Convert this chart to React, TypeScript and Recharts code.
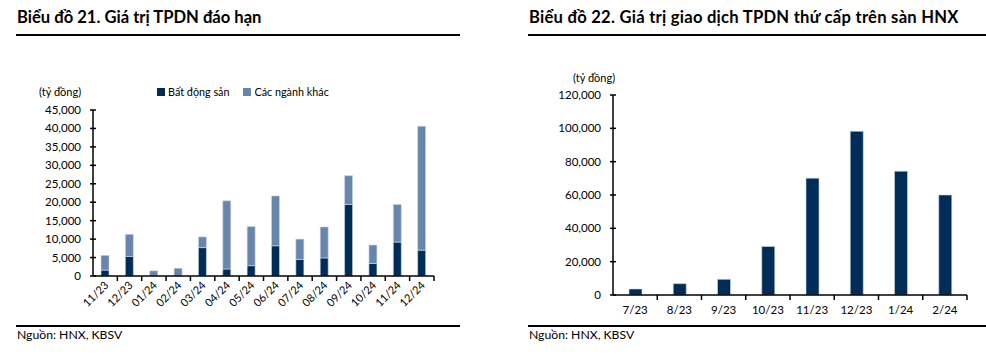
import React from 'react';
import { BarChart, Bar, XAxis, YAxis } from 'recharts';

const FONT = 'Lato, "Open Sans", sans-serif';
const DARK = '#002D58';
const LIGHT = '#6886AB';
const EDGE = '#cfd9e6';

// Chart 21
const months21 = ['11/23', '12/23', '01/24', '02/24', '03/24', '04/24', '05/24', '06/24', '07/24', '08/24', '09/24', '10/24', '11/24', '12/24'];
const realEstate = [1600, 5300, 0, 0, 7700, 1900, 2800, 8200, 4500, 4900, 19400, 3400, 9200, 7000];
const otherSectors = [4000, 6000, 1400, 2100, 2900, 18500, 10600, 13500, 5500, 8400, 7800, 5000, 10200, 33600];
const ticks21 = [0, 5000, 10000, 15000, 20000, 25000, 30000, 35000, 40000, 45000];

// Chart 22
const months22 = ['7/23', '8/23', '9/23', '10/23', '11/23', '12/23', '1/24', '2/24'];
const tradingValue = [3600, 6800, 9400, 29100, 70100, 98200, 74300, 60000];
const ticks22 = [0, 20000, 40000, 60000, 80000, 100000, 120000];

const data21 = months21.map((m, i) => ({ m, a: realEstate[i], b: otherSectors[i] }));
const data22 = months22.map((m, i) => ({ m, v: tradingValue[i] }));

const fmt = (v: number) => v.toLocaleString('en-US');

const YTick = (props: any) => {
  const { x, y, payload } = props;
  return (
    <g>
      <line x1={x - 3} x2={x + 3} y1={y} y2={y} stroke="#000" strokeWidth={1.5} />
      <text x={x - 12} y={y} dy={4} textAnchor="end" fontSize={11.5} fontFamily={FONT} fill="#000">
        {fmt(payload.value)}
      </text>
    </g>
  );
};

const makeXTick = (band: number, rotated: boolean) => (props: any) => {
  const { x, y, payload } = props;
  return (
    <g>
      <line x1={x + band / 2} x2={x + band / 2} y1={y} y2={y + 5} stroke="#000" strokeWidth={1.5} />
      {rotated ? (
        <text
          x={x + 4}
          y={y + 10}
          textAnchor="end"
          fontSize={11}
          fontFamily={FONT}
          fill="#000"
          transform={`rotate(-45 ${x + 4} ${y + 10})`}
        >
          {payload.value}
        </text>
      ) : (
        <text x={x} y={y + 19} textAnchor="middle" fontSize={11.5} fontFamily={FONT} fill="#000">
          {payload.value}
        </text>
      )}
    </g>
  );
};

const abs = (l: number, t: number): React.CSSProperties => ({ position: 'absolute', left: l, top: t });

const W1 = 493, H1 = 361, L1 = 93, R1 = 434;
const W2 = 986 - 493, L2 = 613 - 493, R2 = 967 - 493;

export default function App() {
  const band1 = (R1 - L1) / months21.length;
  const band2 = (R2 - L2) / months22.length;
  return (
    <div style={{ position: 'absolute', left: 0, top: 0, width: 986, height: 361, background: '#fff', fontFamily: FONT, color: '#000', overflow: 'hidden' }}>
      {/* titles */}
      <div style={{ ...abs(17, 7), fontSize: 16.6, fontWeight: 700, whiteSpace: 'nowrap' }}>Biểu đồ 21. Giá trị TPDN đáo hạn</div>
      <div style={{ ...abs(529, 7), fontSize: 16.6, fontWeight: 700, whiteSpace: 'nowrap', letterSpacing: 0.25 }}>Biểu đồ 22. Giá trị giao dịch TPDN thứ cấp trên sàn HNX</div>
      <div style={{ ...abs(16, 34), width: 444, height: 2, background: '#000' }} />
      <div style={{ ...abs(528, 34), width: 458, height: 2, background: '#000' }} />
      <div style={{ ...abs(16, 325), width: 444, height: 2, background: '#000' }} />
      <div style={{ ...abs(528, 325), width: 458, height: 2, background: '#000' }} />
      <div style={{ ...abs(17, 327), fontSize: 12.2, whiteSpace: 'nowrap' }}>Nguồn: HNX, KBSV</div>
      <div style={{ ...abs(529, 327), fontSize: 12.2, whiteSpace: 'nowrap' }}>Nguồn: HNX, KBSV</div>

      {/* units */}
      <div style={{ ...abs(39, 85), fontSize: 11, whiteSpace: 'nowrap' }}>(tỷ đồng)</div>
      <div style={{ ...abs(573, 71), fontSize: 11, whiteSpace: 'nowrap' }}>(tỷ đồng)</div>

      {/* legend */}
      <div style={{ ...abs(157, 85), display: 'flex', alignItems: 'center', fontSize: 10.8, whiteSpace: 'nowrap' }}>
        <span style={{ display: 'inline-block', width: 8, height: 8, background: DARK, marginRight: 3 }} />
        <span>Bất động sản</span>
        <span style={{ display: 'inline-block', width: 8, height: 8, background: LIGHT, marginLeft: 14, marginRight: 3 }} />
        <span>Các ngành khác</span>
      </div>

      <div style={abs(0, 0)}>
        <BarChart width={W1} height={H1} data={data21} margin={{ top: 110, right: W1 - R1, bottom: 45, left: 0 }} barCategoryGap="0%">
          <XAxis
            dataKey="m"
            height={40}
            interval={0}
            tickSize={0}
            tickMargin={0}
            axisLine={{ stroke: '#000', strokeWidth: 1.5 }}
            tickLine={false}
            tick={makeXTick(band1, true)}
          />
          <YAxis
            width={L1}
            domain={[0, 45000]}
            ticks={ticks21}
            interval={0}
            tickSize={0}
            tickMargin={0}
            axisLine={{ stroke: '#000', strokeWidth: 1.5 }}
            tickLine={false}
            tick={<YTick />}
          />
          <Bar dataKey="a" stackId="s" fill={DARK} stroke={EDGE} strokeWidth={0.6} barSize={8} isAnimationActive={false} />
          <Bar dataKey="b" stackId="s" fill={LIGHT} stroke={EDGE} strokeWidth={0.6} barSize={8} isAnimationActive={false} />
        </BarChart>
      </div>

      <div style={abs(493, 0)}>
        <BarChart width={W2} height={H1} data={data22} margin={{ top: 95, right: W2 - R2, bottom: 26, left: 0 }}>
          <XAxis
            dataKey="m"
            height={40}
            interval={0}
            tickSize={0}
            tickMargin={0}
            axisLine={{ stroke: '#000', strokeWidth: 1.5 }}
            tickLine={false}
            tick={makeXTick(band2, false)}
          />
          <YAxis
            width={L2}
            domain={[0, 120000]}
            ticks={ticks22}
            interval={0}
            tickSize={0}
            tickMargin={0}
            axisLine={{ stroke: '#000', strokeWidth: 1.5 }}
            tickLine={false}
            tick={<YTick />}
          />
          <Bar dataKey="v" fill={DARK} stroke={EDGE} strokeWidth={0.6} barSize={13} isAnimationActive={false} />
        </BarChart>
      </div>
    </div>
  );
}
